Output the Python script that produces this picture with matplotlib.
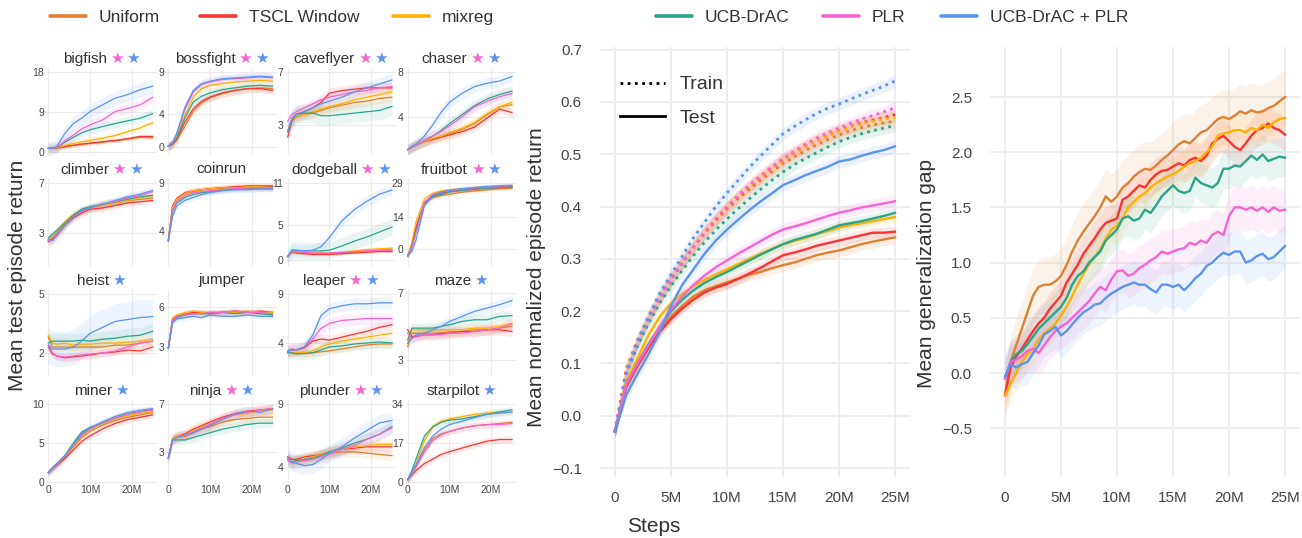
import matplotlib
matplotlib.use("Agg")
import matplotlib.pyplot as plt
from matplotlib.lines import Line2D
from matplotlib.offsetbox import TextArea, HPacker, AnnotationBbox

plt.rcParams['font.family'] = ['Liberation Sans', 'DejaVu Sans']

methods = ["Uniform", "TSCL Window", "mixreg", "UCB-DrAC", "PLR", "UCB-DrAC + PLR"]
colors = ["#E08030", "#FA3434", "#FFB000", "#2AA68C", "#F564D2", "#5B94F0"]

# ---- per-game test returns (rows follow `methods`), steps in millions ----
steps_small = [0, 1, 2, 4, 6, 8, 10, 13, 16, 19, 22, 25]

bigfish = [
    [0.8, 0.85, 0.9, 1.2, 1.5, 1.7, 1.9, 2.2, 2.5, 2.9, 3.3, 3.2],
    [0.8, 0.85, 0.9, 1.2, 1.5, 1.8, 2.0, 2.3, 2.6, 3.0, 3.5, 3.5],
    [0.8, 0.9, 1.0, 1.5, 1.9, 2.3, 2.6, 3.1, 3.7, 4.6, 5.4, 6.6],
    [0.8, 0.9, 1.0, 2.2, 3.3, 4.3, 5.0, 5.7, 6.4, 7.0, 7.6, 8.6],
    [0.8, 0.9, 1.0, 2.5, 3.8, 5.2, 6.1, 7.2, 9.1, 9.8, 10.6, 12.3],
    [0.8, 0.9, 1.2, 4.2, 6.4, 7.6, 9.1, 10.6, 12.1, 12.9, 14.0, 14.8],
]
bossfight = [
    [0.1, 0.3, 0.8, 2.5, 4.3, 5.3, 5.9, 6.4, 6.8, 7.0, 7.1, 7.0],
    [0.1, 0.3, 0.9, 3.0, 4.6, 5.5, 6.0, 6.5, 6.8, 7.0, 7.0, 6.8],
    [0.1, 0.4, 1.2, 3.8, 6.0, 7.0, 7.4, 7.6, 7.8, 7.9, 8.0, 7.9],
    [0.1, 0.4, 1.0, 3.5, 5.4, 6.1, 6.5, 6.9, 7.1, 7.3, 7.4, 7.3],
    [0.1, 0.5, 1.5, 4.5, 6.6, 7.5, 7.8, 8.1, 8.2, 8.3, 8.4, 8.3],
    [0.1, 0.5, 1.6, 4.8, 6.8, 7.6, 7.9, 8.2, 8.3, 8.4, 8.5, 8.4],
]
caveflyer = [
    [2.5, 3.3, 3.6, 3.8, 3.9, 4.1, 4.3, 4.5, 4.7, 4.8, 5.0, 5.1],
    [2.1, 3.3, 3.8, 4.0, 4.3, 4.7, 5.4, 5.6, 5.7, 5.8, 5.8, 5.8],
    [2.5, 3.4, 3.7, 3.8, 4.0, 4.2, 4.4, 4.6, 4.9, 5.1, 5.3, 5.5],
    [2.5, 3.4, 3.8, 3.9, 3.9, 3.7, 3.7, 3.8, 3.9, 4.0, 4.1, 4.4],
    [3.3, 3.8, 4.0, 4.3, 4.6, 4.9, 5.1, 5.3, 5.5, 5.6, 5.8, 5.9],
    [2.5, 3.5, 3.8, 4.0, 4.3, 4.6, 4.8, 5.1, 5.5, 5.8, 6.1, 6.4],
]
chaser = [
    [1.1, 1.3, 1.5, 1.8, 2.0, 2.3, 2.5, 2.9, 3.4, 4.2, 4.9, 5.1],
    [1.1, 1.3, 1.5, 1.8, 2.0, 2.2, 2.4, 2.7, 3.1, 3.9, 4.7, 4.4],
    [1.1, 1.3, 1.5, 1.8, 2.1, 2.3, 2.6, 3.0, 3.5, 4.3, 4.9, 5.3],
    [1.1, 1.3, 1.5, 1.9, 2.3, 2.8, 3.4, 4.2, 5.0, 5.6, 6.0, 6.3],
    [1.1, 1.3, 1.5, 1.9, 2.3, 2.7, 3.2, 4.0, 4.9, 5.4, 5.8, 6.1],
    [1.1, 1.4, 1.6, 2.3, 3.3, 4.4, 5.3, 6.1, 6.7, 7.0, 7.2, 7.6],
]
climber = [
    [2.4, 2.6, 3.0, 3.8, 4.4, 4.8, 5.0, 5.2, 5.4, 5.6, 5.7, 5.8],
    [2.3, 2.5, 2.8, 3.6, 4.2, 4.6, 4.9, 5.0, 5.2, 5.4, 5.5, 5.6],
    [2.5, 2.8, 3.2, 3.9, 4.5, 4.8, 5.0, 5.2, 5.4, 5.6, 5.8, 6.0],
    [2.6, 2.9, 3.2, 3.8, 4.4, 4.9, 5.1, 5.3, 5.5, 5.7, 5.9, 6.0],
    [2.4, 2.4, 2.8, 3.6, 4.3, 4.7, 5.0, 5.3, 5.5, 5.8, 6.0, 6.3],
    [2.5, 2.4, 2.8, 3.6, 4.3, 4.8, 5.0, 5.3, 5.6, 5.9, 6.1, 6.4],
]
coinrun = [
    [3.0, 6.5, 7.3, 7.9, 8.1, 8.3, 8.4, 8.5, 8.6, 8.6, 8.6, 8.6],
    [3.0, 6.6, 7.4, 8.0, 8.2, 8.3, 8.4, 8.5, 8.6, 8.7, 8.7, 8.7],
    [3.0, 6.4, 7.3, 7.9, 8.2, 8.3, 8.4, 8.5, 8.5, 8.6, 8.6, 8.5],
    [3.0, 6.0, 6.9, 7.5, 7.8, 8.0, 8.1, 8.3, 8.4, 8.4, 8.4, 8.4],
    [3.0, 6.2, 7.1, 7.7, 8.0, 8.1, 8.2, 8.3, 8.4, 8.5, 8.5, 8.5],
    [3.0, 5.5, 6.6, 7.2, 7.5, 7.8, 8.0, 8.2, 8.3, 8.3, 8.4, 8.4],
]
dodgeball = [
    [0.5, 1.1, 1.1, 1.0, 0.9, 0.9, 0.9, 1.0, 1.1, 1.3, 1.4, 1.5],
    [0.5, 1.1, 1.0, 0.9, 0.8, 0.8, 0.8, 0.9, 1.0, 1.1, 1.2, 1.2],
    [0.5, 1.2, 1.2, 1.1, 1.0, 1.0, 1.0, 1.1, 1.3, 1.5, 1.6, 1.7],
    [0.5, 1.4, 1.4, 1.3, 1.3, 1.3, 1.4, 2.0, 2.7, 3.3, 4.0, 4.7],
    [0.5, 1.2, 1.2, 1.1, 1.0, 1.0, 1.0, 1.1, 1.2, 1.3, 1.4, 1.4],
    [0.5, 1.4, 1.4, 1.3, 1.4, 1.9, 3.2, 5.6, 7.2, 8.4, 9.4, 10.0],
]
fruitbot = [
    [-3, 2, 10, 20, 22.5, 23.5, 24, 25, 25.5, 26, 26.5, 26.8],
    [-3, 1.5, 9, 20.5, 23.5, 24.5, 25.2, 25.8, 26.3, 26.8, 27, 27.2],
    [-3, 3, 12, 22, 24.5, 25.5, 26, 26.5, 27, 27.2, 27.4, 27.5],
    [-3, 1, 8, 20, 23, 24, 25, 25.8, 26.3, 26.8, 27, 27.4],
    [-3, 0.5, 7, 20.5, 24, 25, 25.7, 26.3, 26.8, 27.2, 27.5, 27.8],
    [-3, -1, 4, 19, 23.5, 25, 25.8, 26.5, 27, 27.5, 27.8, 28],
]
heist = [
    [2.8, 2.3, 2.3, 2.3, 2.3, 2.3, 2.3, 2.3, 2.4, 2.4, 2.5, 2.6],
    [2.3, 1.95, 1.85, 1.75, 1.8, 1.85, 1.9, 2.0, 2.05, 2.15, 2.1, 2.3],
    [2.9, 2.5, 2.45, 2.5, 2.4, 2.45, 2.45, 2.5, 2.5, 2.55, 2.6, 2.7],
    [2.5, 2.6, 2.6, 2.6, 2.6, 2.65, 2.6, 2.7, 2.75, 2.85, 2.9, 3.1],
    [2.4, 2.0, 1.85, 1.8, 1.85, 1.9, 1.95, 2.0, 2.1, 2.3, 2.5, 2.6],
    [2.4, 2.2, 2.2, 2.2, 2.3, 2.6, 3.0, 3.3, 3.6, 3.7, 3.8, 3.85],
]
jumper = [
    [2.9, 5.1, 5.3, 5.5, 5.6, 5.6, 5.6, 5.6, 5.6, 5.6, 5.6, 5.5],
    [2.9, 5.0, 5.3, 5.4, 5.6, 5.6, 5.5, 5.6, 5.7, 5.6, 5.7, 5.6],
    [2.9, 5.2, 5.4, 5.6, 5.7, 5.6, 5.5, 5.6, 5.6, 5.7, 5.6, 5.6],
    [2.9, 5.0, 5.2, 5.4, 5.5, 5.5, 5.5, 5.6, 5.5, 5.6, 5.5, 5.4],
    [2.9, 5.0, 5.3, 5.4, 5.5, 5.5, 5.6, 5.6, 5.7, 5.6, 5.6, 5.5],
    [2.9, 4.8, 5.1, 5.2, 5.3, 5.2, 5.4, 5.3, 5.3, 5.4, 5.3, 5.3],
]
leaper = [
    [3.1, 3.0, 3.0, 3.0, 3.0, 3.1, 3.2, 3.4, 3.6, 3.8, 3.9, 3.9],
    [3.2, 3.3, 3.3, 3.5, 4.2, 4.4, 4.3, 4.6, 4.9, 5.2, 5.6, 5.85],
    [3.0, 3.0, 3.0, 3.0, 3.2, 3.6, 3.9, 4.2, 4.4, 4.6, 4.8, 5.0],
    [3.0, 3.0, 2.9, 2.9, 3.0, 3.3, 3.6, 3.7, 3.9, 4.0, 4.1, 4.0],
    [3.2, 3.4, 3.3, 3.6, 4.4, 5.5, 6.0, 6.3, 6.4, 6.5, 6.5, 6.5],
    [3.2, 3.3, 3.3, 3.6, 4.8, 6.8, 7.5, 7.8, 8.0, 8.0, 8.1, 8.1],
]
maze = [
    [3.8, 4.6, 4.6, 4.6, 4.6, 4.6, 4.7, 4.7, 4.8, 4.8, 4.9, 5.0],
    [4.8, 4.4, 4.4, 4.5, 4.5, 4.6, 4.6, 4.7, 4.7, 4.8, 4.8, 4.7],
    [4.0, 4.8, 4.8, 4.8, 4.8, 4.8, 4.8, 4.8, 4.9, 4.9, 5.0, 5.2],
    [4.2, 4.9, 4.9, 4.9, 4.9, 5.0, 5.1, 5.3, 5.4, 5.4, 5.6, 5.65],
    [4.6, 4.3, 4.4, 4.5, 4.5, 4.5, 4.6, 4.6, 4.7, 4.8, 4.9, 5.15],
    [4.0, 4.3, 4.5, 4.6, 4.8, 5.0, 5.3, 5.6, 5.9, 6.1, 6.3, 6.55],
]
miner = [
    [1.2, 1.7, 2.2, 3.2, 4.5, 5.7, 6.5, 7.3, 7.9, 8.3, 8.6, 8.9],
    [1.2, 1.6, 2.1, 3.0, 4.1, 5.2, 5.9, 6.8, 7.5, 8.0, 8.3, 8.6],
    [1.2, 1.7, 2.2, 3.3, 4.7, 5.9, 6.7, 7.5, 8.1, 8.5, 8.8, 9.0],
    [1.2, 1.8, 2.3, 3.4, 5.0, 6.4, 7.0, 7.6, 8.2, 8.7, 9.0, 9.3],
    [1.2, 1.7, 2.2, 3.3, 4.8, 6.0, 6.8, 7.6, 8.2, 8.7, 9.0, 9.2],
    [1.2, 1.8, 2.3, 3.3, 4.8, 6.2, 6.9, 7.7, 8.4, 8.9, 9.2, 9.4],
]
ninja = [
    [2.5, 4.0, 4.2, 4.3, 4.6, 4.9, 5.1, 5.5, 5.7, 5.8, 5.9, 5.9],
    [2.5, 4.1, 4.3, 4.5, 4.9, 5.2, 5.5, 5.9, 6.2, 6.4, 6.5, 6.6],
    [2.5, 4.1, 4.3, 4.4, 4.8, 5.1, 5.3, 5.8, 6.1, 6.2, 6.4, 6.5],
    [2.5, 4.0, 4.0, 4.0, 4.2, 4.4, 4.6, 4.9, 5.1, 5.3, 5.4, 5.4],
    [2.5, 4.0, 4.2, 4.4, 4.7, 5.0, 5.3, 5.8, 6.1, 6.3, 6.5, 6.6],
    [2.5, 4.0, 4.2, 4.4, 4.6, 4.9, 5.2, 5.7, 6.2, 6.4, 6.3, 6.6],
]
plunder = [
    [4.5, 4.4, 4.5, 4.6, 4.8, 5.0, 5.1, 5.2, 5.2, 5.1, 5.0, 4.9],
    [4.8, 4.6, 4.6, 4.8, 4.9, 5.0, 5.2, 5.4, 5.5, 5.6, 5.6, 5.6],
    [4.7, 4.4, 4.5, 4.6, 4.8, 5.0, 5.2, 5.4, 5.6, 5.7, 5.8, 5.8],
    [4.6, 4.4, 4.5, 4.6, 4.7, 4.9, 5.2, 5.5, 5.9, 6.2, 6.6, 7.2],
    [4.6, 4.3, 4.4, 4.5, 4.6, 4.8, 5.0, 5.4, 5.7, 6.2, 6.6, 7.1],
    [4.8, 4.4, 4.3, 4.1, 4.2, 4.6, 5.1, 5.6, 6.3, 6.9, 7.5, 7.7],
]
starpilot = [
    [1, 4, 7, 14, 19, 21, 22, 23.5, 24.5, 25, 25.5, 26],
    [1, 3, 5, 8, 10, 12, 13.2, 14.8, 16.3, 17.8, 18.5, 18.5],
    [1, 4, 8, 18, 24, 26.5, 27.5, 28.5, 29.5, 30, 30.5, 30.5],
    [1, 5, 10, 20, 24, 26, 27, 27.5, 28.5, 29.5, 30.5, 31.5],
    [1, 3.5, 6.5, 13, 18, 20.5, 22, 23.5, 24.5, 25, 25, 25.5],
    [1, 4, 7.5, 15, 20, 23, 25, 26.5, 28, 29.5, 30, 30.5],
]

game_names = ["bigfish", "bossfight", "caveflyer", "chaser",
              "climber", "coinrun", "dodgeball", "fruitbot",
              "heist", "jumper", "leaper", "maze",
              "miner", "ninja", "plunder", "starpilot"]
game_lines = [bigfish, bossfight, caveflyer, chaser,
              climber, coinrun, dodgeball, fruitbot,
              heist, jumper, leaper, maze,
              miner, ninja, plunder, starpilot]
game_band = [
    [0.5, 0.4, 0.8, 1.0, 1.2, 1.6], [0.5, 0.5, 0.5, 0.5, 0.5, 0.5],
    [0.4, 0.4, 0.4, 0.7, 0.4, 0.5], [0.4, 0.4, 0.4, 0.5, 0.5, 0.5],
    [0.3, 0.3, 0.3, 0.3, 0.3, 0.3], [0.3, 0.3, 0.3, 0.3, 0.3, 0.3],
    [0.2, 0.2, 0.3, 1.2, 0.2, 0.8], [1.0, 1.0, 1.0, 1.0, 1.0, 1.0],
    [0.2, 0.2, 0.3, 0.4, 0.2, 0.9], [0.2, 0.2, 0.2, 0.2, 0.2, 0.2],
    [0.4, 0.5, 0.4, 0.6, 0.6, 0.6], [0.3, 0.3, 0.3, 0.3, 0.3, 0.3],
    [0.4, 0.4, 0.4, 0.4, 0.4, 0.4], [0.4, 0.4, 0.4, 0.4, 0.4, 0.4],
    [0.4, 0.4, 0.4, 0.5, 0.5, 0.7], [1.5, 1.5, 1.5, 1.5, 1.5, 1.5],
]
game_ticks = [[0, 9, 18], [0, 4, 9], [3, 7], [4, 8],
              [3, 7], [4, 9], [0, 5, 11], [0, 14, 29],
              [2, 5], [3, 6], [4, 9], [3, 7],
              [0, 5, 10], [3, 7], [4, 9], [0, 17, 34]]
# p = PLR star, b = UCB-DrAC + PLR star
game_stars = ["pb", "pb", "pb", "pb",
              "pb", "", "pb", "pb",
              "b", "", "pb", "b",
              "b", "pb", "pb", "b"]

# ---- mean normalized episode return ----
steps = list(range(26))
train_returns = [
    [-0.03, 0.09, 0.145, 0.19, 0.228, 0.262, 0.293, 0.322, 0.349, 0.373, 0.395, 0.415, 0.433,
     0.45, 0.466, 0.482, 0.495, 0.507, 0.518, 0.528, 0.537, 0.545, 0.551, 0.556, 0.56, 0.563],
    [-0.03, 0.085, 0.14, 0.185, 0.225, 0.26, 0.292, 0.322, 0.35, 0.375, 0.398, 0.419, 0.438,
     0.456, 0.473, 0.49, 0.503, 0.515, 0.526, 0.536, 0.545, 0.553, 0.56, 0.565, 0.57, 0.576],
    [-0.03, 0.085, 0.14, 0.186, 0.226, 0.261, 0.293, 0.323, 0.351, 0.376, 0.399, 0.42, 0.439,
     0.457, 0.474, 0.49, 0.503, 0.515, 0.526, 0.536, 0.545, 0.552, 0.558, 0.563, 0.567, 0.57],
    [-0.03, 0.08, 0.133, 0.177, 0.215, 0.248, 0.278, 0.306, 0.332, 0.355, 0.376, 0.396, 0.415,
     0.433, 0.45, 0.466, 0.48, 0.492, 0.503, 0.514, 0.524, 0.532, 0.539, 0.545, 0.55, 0.555],
    [-0.03, 0.085, 0.14, 0.185, 0.225, 0.26, 0.292, 0.322, 0.35, 0.376, 0.4, 0.421, 0.441,
     0.459, 0.476, 0.492, 0.506, 0.519, 0.531, 0.541, 0.55, 0.559, 0.567, 0.574, 0.581, 0.589],
    [-0.03, 0.08, 0.14, 0.19, 0.235, 0.27, 0.305, 0.34, 0.37, 0.4, 0.426, 0.45, 0.475,
     0.497, 0.518, 0.539, 0.553, 0.566, 0.578, 0.588, 0.596, 0.605, 0.614, 0.622, 0.63, 0.64],
]
test_returns = [
    [-0.03, 0.06, 0.1, 0.135, 0.165, 0.19, 0.21, 0.228, 0.24, 0.248, 0.255, 0.262, 0.27,
     0.275, 0.282, 0.288, 0.293, 0.3, 0.307, 0.312, 0.316, 0.322, 0.328, 0.333, 0.337, 0.341],
    [-0.03, 0.055, 0.095, 0.13, 0.16, 0.185, 0.205, 0.222, 0.236, 0.245, 0.252, 0.262, 0.272,
     0.283, 0.295, 0.307, 0.312, 0.318, 0.325, 0.33, 0.335, 0.34, 0.345, 0.35, 0.35, 0.352],
    [-0.03, 0.065, 0.11, 0.155, 0.19, 0.215, 0.233, 0.248, 0.26, 0.27, 0.28, 0.29, 0.3,
     0.31, 0.319, 0.328, 0.334, 0.34, 0.347, 0.353, 0.36, 0.364, 0.368, 0.372, 0.376, 0.38],
    [-0.03, 0.06, 0.1, 0.137, 0.17, 0.2, 0.222, 0.24, 0.254, 0.265, 0.275, 0.286, 0.297,
     0.308, 0.318, 0.328, 0.336, 0.342, 0.348, 0.356, 0.364, 0.368, 0.372, 0.377, 0.382, 0.388],
    [-0.03, 0.06, 0.1, 0.135, 0.17, 0.203, 0.228, 0.25, 0.268, 0.284, 0.297, 0.31, 0.322,
     0.334, 0.346, 0.356, 0.362, 0.368, 0.375, 0.382, 0.388, 0.393, 0.398, 0.402, 0.406, 0.41],
    [-0.03, 0.04, 0.08, 0.118, 0.16, 0.21, 0.25, 0.28, 0.31, 0.335, 0.356, 0.375, 0.393,
     0.41, 0.425, 0.441, 0.45, 0.46, 0.468, 0.476, 0.486, 0.49, 0.497, 0.503, 0.508, 0.515],
]
train_band = [0.014, 0.012, 0.012, 0.012, 0.012, 0.012]
test_band = [0.012, 0.01, 0.01, 0.01, 0.012, 0.012]

# ---- mean generalization gap ----
gap_steps = [i * 0.5 for i in range(51)]
gap_values = [
    [-0.2, 0.1, 0.25, 0.4, 0.55, 0.7, 0.78, 0.8, 0.8, 0.83, 0.88, 0.98, 1.1, 1.2, 1.28, 1.35,
     1.42, 1.5, 1.6, 1.55, 1.6, 1.68, 1.72, 1.78, 1.82, 1.85, 1.84, 1.88, 1.93, 1.97, 2.02,
     2.07, 2.1, 2.08, 2.13, 2.18, 2.2, 2.25, 2.3, 2.32, 2.3, 2.33, 2.37, 2.35, 2.38, 2.36,
     2.37, 2.4, 2.42, 2.46, 2.5],
    [-0.2, 0.05, 0.15, 0.22, 0.3, 0.38, 0.45, 0.5, 0.58, 0.64, 0.7, 0.82, 0.9, 0.98, 1.08,
     1.15, 1.22, 1.3, 1.36, 1.38, 1.4, 1.57, 1.6, 1.65, 1.7, 1.68, 1.75, 1.8, 1.83, 1.84,
     1.87, 1.9, 1.88, 1.93, 1.95, 1.92, 1.97, 2.08, 2.12, 2.15, 2.1, 2.05, 2.02, 2.08, 2.15,
     2.2, 2.22, 2.26, 2.22, 2.2, 2.16],
    [-0.2, -0.1, 0.0, 0.1, 0.17, 0.22, 0.3, 0.36, 0.4, 0.45, 0.52, 0.6, 0.7, 0.8, 0.9, 0.98,
     1.05, 1.12, 1.22, 1.3, 1.33, 1.4, 1.5, 1.55, 1.6, 1.63, 1.68, 1.72, 1.75, 1.78, 1.8,
     1.83, 1.87, 1.9, 1.92, 1.95, 2.0, 2.05, 2.15, 2.17, 2.18, 2.2, 2.2, 2.18, 2.22, 2.2,
     2.25, 2.22, 2.27, 2.3, 2.31],
    [-0.05, 0.1, 0.17, 0.2, 0.26, 0.33, 0.4, 0.45, 0.5, 0.55, 0.6, 0.68, 0.8, 0.88, 0.92,
     1.0, 1.05, 1.1, 1.2, 1.25, 1.3, 1.4, 1.42, 1.38, 1.4, 1.48, 1.45, 1.52, 1.6, 1.65, 1.7,
     1.65, 1.63, 1.65, 1.77, 1.72, 1.7, 1.68, 1.72, 1.85, 1.85, 1.88, 1.87, 1.92, 1.97,
     1.93, 1.98, 1.92, 1.94, 1.96, 1.95],
    [-0.05, 0.1, 0.12, 0.15, 0.2, 0.22, 0.18, 0.25, 0.32, 0.38, 0.42, 0.45, 0.5, 0.55, 0.6,
     0.65, 0.72, 0.78, 0.75, 0.85, 0.92, 0.93, 0.88, 0.9, 0.95, 0.98, 1.02, 1.05, 1.1, 1.08,
     1.1, 1.12, 1.13, 1.18, 1.16, 1.2, 1.18, 1.25, 1.28, 1.25, 1.42, 1.5, 1.5, 1.48, 1.5,
     1.47, 1.5, 1.46, 1.5, 1.47, 1.48],
    [-0.03, 0.08, 0.05, 0.08, 0.1, 0.18, 0.25, 0.35, 0.38, 0.42, 0.34, 0.38, 0.44, 0.5, 0.55,
     0.58, 0.62, 0.63, 0.68, 0.72, 0.75, 0.78, 0.8, 0.82, 0.8, 0.8, 0.76, 0.73, 0.8, 0.8,
     0.78, 0.8, 0.75, 0.8, 0.86, 0.9, 0.97, 1.0, 1.05, 1.09, 1.07, 1.1, 1.1, 1.0, 1.02,
     1.06, 1.08, 1.03, 1.05, 1.1, 1.15],
]
gap_band = [0.25, 0.15, 0.15, 0.18, 0.2, 0.2]

# ---------------------------------------------------------------
W, H = 1302, 538
TXT = "#333333"
TICK = "#444444"
GRID = "#EBEBEB"
DOTTED = (0, (1, 1.6))


def px_rect(l, t, r, b):
    return [l / W, 1 - b / H, (r - l) / W, (b - t) / H]


fig = plt.figure(figsize=(W / 100, H / 100), dpi=100)

col_zero = [48.3, 168.3, 287.7, 407.7]
px_per_m = 4.17
rows = [(68, 155), (179, 267), (290, 376), (400, 484)]
small_ylims = [(-0.68, 18.9), (-0.96, 9.48), (0.74, 7.3), (0.62, 8.36),
               (0.28, 7.32), (0.25, 9.42), (-1.0, 11.57), (-7.9, 30.76),
               (0.83, 5.2), (0.82, 7.28), (0.63, 9.41), (2.04, 7.18),
               (-0.26, 10.51), (0.33, 7.33), (2.65, 9.32), (-0.87, 35.74)]
star_col = {"p": colors[4], "b": colors[5]}

for k, name in enumerate(game_names):
    r, c = divmod(k, 4)
    left = col_zero[c] - 0.5 * px_per_m
    right = col_zero[c] + 26 * px_per_m
    ax = fig.add_axes(px_rect(left, rows[r][0], right, rows[r][1]))
    for m in range(6):
        y = game_lines[k][m]
        sd = game_band[k][m]
        ax.fill_between(steps_small, [v - sd for v in y], [v + sd for v in y],
                        color=colors[m], alpha=0.1, lw=0)
        ax.plot(steps_small, y, color=colors[m], lw=0.9)
    ax.set_xlim(-0.5, 26)
    ax.set_ylim(*small_ylims[k])
    ax.set_xticks([0, 10, 20])
    ax.set_yticks(game_ticks[k])
    ax.set_yticklabels([str(t) for t in game_ticks[k]])
    if r == 3:
        ax.set_xticklabels(["0", "10M", "20M"])
    else:
        ax.set_xticklabels([])
    ax.tick_params(length=0, labelsize=7.5, colors=TICK, pad=1.5)
    ax.tick_params(axis="x", labelsize=7.5, pad=1)
    ax.grid(True, color=GRID, lw=0.8)
    ax.set_axisbelow(True)
    for s in ax.spines.values():
        s.set_visible(False)
    parts = [TextArea(name, textprops=dict(fontsize=11, color=TXT))]
    for ch in game_stars[k]:
        parts.append(TextArea("★", textprops=dict(fontsize=11, color=star_col[ch],
                                                   family=["DejaVu Sans"])))
    box = HPacker(children=parts, align="baseline", pad=0, sep=2)
    ab = AnnotationBbox(box, (0.5, 1.0), xycoords="axes fraction",
                        xybox=(0, 7), boxcoords="offset points",
                        box_alignment=(0.5, 0.5), frameon=False)
    ax.add_artist(ab)

fig.text(18 / W, 1 - 275 / H, "Mean test episode return", rotation=90,
         ha="center", va="center", fontsize=15, color=TXT)


def style_big(ax):
    ax.set_xlim(-1.34, 26.34)
    ax.set_xticks([0, 5, 10, 15, 20, 25])
    ax.set_xticklabels(["0", "5M", "10M", "15M", "20M", "25M"])
    ax.tick_params(length=0, labelsize=11, colors=TICK)
    ax.tick_params(axis="x", pad=10)
    ax.tick_params(axis="y", pad=13)
    ax.grid(True, color="#EEEEEE", lw=1.5)
    ax.set_axisbelow(True)
    for s in ax.spines.values():
        s.set_visible(False)


# middle panel
ax2 = fig.add_axes(px_rect(600, 47, 910, 477))
for m in range(6):
    tr = train_returns[m]
    te = test_returns[m]
    ax2.fill_between(steps, [v - train_band[m] for v in tr], [v + train_band[m] for v in tr],
                     color=colors[m], alpha=0.12, lw=0)
    ax2.fill_between(steps, [v - test_band[m] for v in te], [v + test_band[m] for v in te],
                     color=colors[m], alpha=0.12, lw=0)
for m in range(6):
    ax2.plot(steps, train_returns[m], color=colors[m], lw=2.0, ls=DOTTED)
for m in range(6):
    ax2.plot(steps, test_returns[m], color=colors[m], lw=1.7)
ax2.set_ylim(-0.117, 0.705)
ax2.set_yticks([-0.1, 0.0, 0.1, 0.2, 0.3, 0.4, 0.5, 0.6, 0.7])
ax2.set_yticklabels(["\u22120.1", "0.0", "0.1", "0.2", "0.3", "0.4", "0.5", "0.6", "0.7"])
style_big(ax2)
ax2.legend(handles=[Line2D([], [], color="black", lw=2.0, ls=DOTTED),
                    Line2D([], [], color="black", lw=2.0)],
           labels=["Train", "Test"], loc="upper left", bbox_to_anchor=(0.065, 0.933),
           frameon=False, fontsize=14, handlelength=2.3, handletextpad=0.75,
           labelspacing=0.8, borderpad=0, borderaxespad=0, labelcolor=TXT)
fig.text(537 / W, 1 - 277 / H, "Mean normalized episode return", rotation=90,
         ha="center", va="center", fontsize=15, color=TXT)
fig.text(654 / W, 1 - 527 / H, "Steps", ha="center", va="center", fontsize=15, color=TXT)

# right panel
ax3 = fig.add_axes(px_rect(990, 47, 1300, 477))
for m in range(6):
    g = gap_values[m]
    ax3.fill_between(gap_steps, [v - gap_band[m] for v in g], [v + gap_band[m] for v in g],
                     color=colors[m], alpha=0.1, lw=0)
for m in range(6):
    ax3.plot(gap_steps, gap_values[m], color=colors[m], lw=1.7)
ax3.set_ylim(-0.942, 2.953)
ax3.set_yticks([-0.5, 0.0, 0.5, 1.0, 1.5, 2.0, 2.5])
ax3.set_yticklabels(["\u22120.5", "0.0", "0.5", "1.0", "1.5", "2.0", "2.5"])
style_big(ax3)
fig.text(927 / W, 1 - 274 / H, "Mean generalization gap", rotation=90,
         ha="center", va="center", fontsize=15, color=TXT)

# top legend
legend_x = [50, 200, 393, 656, 823, 941]
for m in range(6):
    fig.legend(handles=[Line2D([], [], color=colors[m], lw=2.6, solid_capstyle="round")],
               labels=[methods[m]], loc="center left",
               bbox_to_anchor=(legend_x[m] / W, 1 - 17 / H), frameon=False,
               fontsize=12.5, handlelength=2.1, handletextpad=0.7,
               borderpad=0, borderaxespad=0, labelcolor=TXT)

fig.savefig("out.png", dpi=100, facecolor="white")
